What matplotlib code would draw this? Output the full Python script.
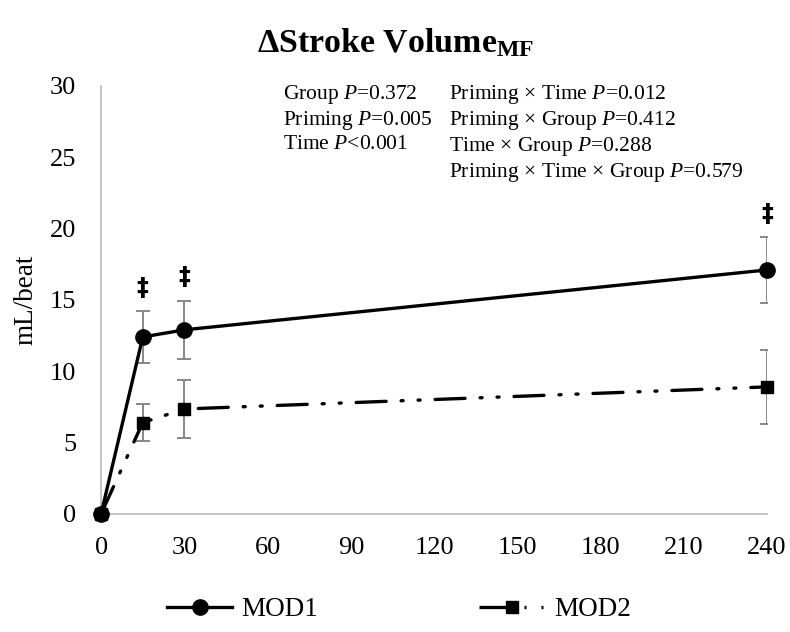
import matplotlib.pyplot as plt
from matplotlib.lines import Line2D

plt.rcParams["font.family"] = ["Liberation Serif", "DejaVu Serif"]
plt.rcParams["mathtext.fontset"] = "custom"
plt.rcParams["mathtext.rm"] = "Liberation Serif"
plt.rcParams["mathtext.it"] = "Liberation Serif:italic"
plt.rcParams["mathtext.bf"] = "Liberation Serif:bold"

# minutes after priming
time_min = [0, 15, 30, 240]
mod1_mean = [0.0, 12.4, 12.9, 17.1]
mod1_err = [0.0, 1.8, 2.05, 2.3]
mod2_mean = [0.0, 6.4, 7.35, 8.9]
mod2_err = [0.0, 1.3, 2.05, 2.6]
# time points marked with a double dagger (MOD1)
marked_times = [15, 30, 240]

x_ticks = [0, 30, 60, 90, 120, 150, 180, 210, 240]
y_ticks = [0, 5, 10, 15, 20, 25, 30]

stats_left = ["Group $P$=0.372", "Priming $P$=0.005", "Time $P$<0.001"]
stats_right = [
    "Priming × Time $P$=0.012",
    "Priming × Group $P$=0.412",
    "Time × Group $P$=0.288",
    "Priming × Time × Group $P$=0.579",
]

AXIS_GRAY = "#BFBFBF"
ERR_GRAY = "#7F7F7F"
dash_dot_dot = (0, (9, 4.5, 0.6, 4.5, 0.6, 4.5))

fig = plt.figure(figsize=(7.9, 6.32), dpi=100)
ax = fig.add_axes([0.128, 0.187, 0.843, 0.677])

ax.errorbar(time_min[1:], mod1_mean[1:], yerr=mod1_err[1:], fmt="none",
            ecolor=ERR_GRAY, elinewidth=1.3, capsize=5, capthick=1.3, zorder=2)
ax.errorbar(time_min[1:], mod2_mean[1:], yerr=mod2_err[1:], fmt="none",
            ecolor=ERR_GRAY, elinewidth=1.3, capsize=5, capthick=1.3, zorder=2)

ax.plot(time_min, mod1_mean, color="black", linewidth=2.4, marker="o",
        markersize=11, zorder=3, clip_on=False)
ax.plot(time_min, mod2_mean, color="black", linewidth=2.4, linestyle=dash_dot_dot,
        dash_capstyle="round", marker="s", markersize=9, zorder=3, clip_on=False)

for t in marked_times:
    idx = time_min.index(t)
    ax.annotate("‡", (t, mod1_mean[idx] + mod1_err[idx]), xytext=(0, 8),
                textcoords="offset points", ha="center", va="bottom",
                fontsize=17, fontweight="bold", family=["DejaVu Sans"])

ax.set_xlim(0, 240)
ax.set_ylim(0, 30)
ax.set_xticks(x_ticks)
ax.set_yticks(y_ticks)
ax.tick_params(length=0, labelsize=19)
ax.tick_params(axis="y", pad=18)
ax.tick_params(axis="x", pad=17)
for side in ("top", "right"):
    ax.spines[side].set_visible(False)
for side in ("left", "bottom"):
    ax.spines[side].set_color(AXIS_GRAY)
    ax.spines[side].set_linewidth(1.3)
ax.set_ylabel("mL/beat", fontsize=19.5, labelpad=8)

fig.text(0.501, 0.933, r"$\mathbf{\Delta Stroke\ Volume_{MF}}$", ha="center",
         va="center", fontsize=24.5)

line_step = 26 / 428
for i, txt in enumerate(stats_left):
    ax.text(0.273, 1.008 - i * line_step, txt, transform=ax.transAxes,
            fontsize=15.5, va="top")
for i, txt in enumerate(stats_right):
    ax.text(0.523, 1.008 - i * line_step, txt, transform=ax.transAxes,
            fontsize=15.5, va="top")

handles = [
    Line2D([], [], color="black", linewidth=2.4, marker="o", markersize=11),
    Line2D([], [], color="black", linewidth=2.4, linestyle=dash_dot_dot,
           marker="s", markersize=9),
]
fig.legend(handles, ["MOD1", "MOD2"], loc="center", bbox_to_anchor=(0.505, 0.035),
           ncol=2, frameon=False, fontsize=19.5, handlelength=2.4,
           columnspacing=5.95, handletextpad=0.35)

fig.savefig("out.png", dpi=100)
